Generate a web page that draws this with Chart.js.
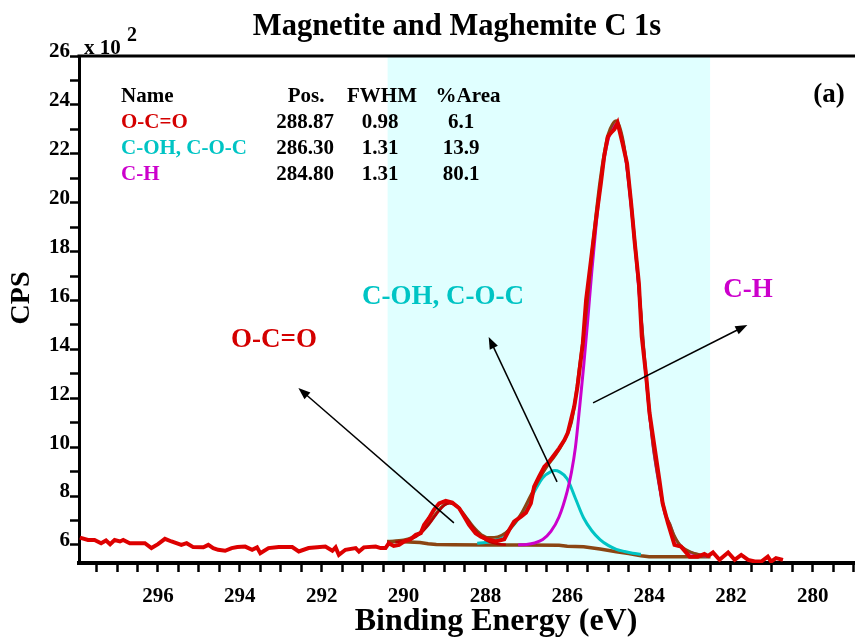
<!DOCTYPE html>
<html lang="en">
<head>
<meta charset="UTF-8">
<title>Magnetite and Maghemite C 1s</title>
<script src="https://cdn.jsdelivr.net/npm/chart.js"></script>
<style>
  html, body { margin: 0; padding: 0; background: #fff; }
  #wrap { width: 855px; height: 642px; position: relative; }
</style>
</head>
<body>
<div id="wrap"><canvas id="xps"></canvas></div>
<script>
// measured C 1s spectrum, counts in units of 10^2 CPS
const rawEnergy = [297.91, 297.71, 297.55, 297.39, 297.27, 297.17, 297.06, 296.93, 296.85, 296.69,
  296.49, 296.32, 296.16, 296.00, 295.83, 295.67, 295.43, 295.30, 295.14, 294.89,
  294.77, 294.65, 294.53, 294.36, 294.20, 294.06, 293.87, 293.70, 293.58, 293.50,
  293.30, 293.05, 292.72, 292.56, 292.32, 291.91, 291.74, 291.66, 291.58, 291.42,
  291.17, 291.09, 290.97, 290.68, 290.56, 290.44, 290.36, 290.24, 290.11, 289.99,
  289.83, 289.70, 289.58, 289.50, 289.38, 289.26, 289.13, 288.97, 288.81, 288.64,
  288.52, 288.40, 288.24, 288.11, 287.95, 287.75, 287.54, 287.42, 287.30, 287.13,
  287.01, 286.89, 286.81, 286.69, 286.56, 286.44, 286.32, 286.20, 286.07, 285.99,
  285.91, 285.83, 285.75, 285.62, 285.54, 285.42, 285.30, 285.18, 285.10, 285.01,
  284.91, 284.85, 284.77, 284.65, 284.54, 284.44, 284.35, 284.25, 284.18, 284.07,
  283.99, 283.87, 283.75, 283.67, 283.54, 283.38, 283.22, 283.01, 282.81, 282.65,
  282.56, 282.44, 282.28, 282.07, 281.91, 281.75, 281.58, 281.42, 281.26, 281.10,
  281.02, 280.90, 280.73];
const rawCps = [6.30, 6.20, 6.20, 6.07, 6.18, 6.03, 6.20, 6.14, 6.20, 6.07,
  6.07, 6.07, 5.87, 6.03, 6.25, 6.14, 6.00, 6.07, 5.91, 5.90,
  6.00, 5.87, 5.80, 5.76, 5.87, 5.91, 5.93, 5.80, 5.90, 5.66,
  5.87, 5.91, 5.91, 5.73, 5.87, 5.93, 5.76, 5.90, 5.59, 5.80,
  5.87, 5.73, 5.90, 5.93, 5.87, 5.87, 6.07, 5.96, 6.00, 6.14,
  6.23, 6.41, 6.48, 6.82, 7.09, 7.43, 7.70, 7.80, 7.73, 7.50,
  7.16, 6.82, 6.48, 6.34, 6.23, 6.14, 6.23, 6.61, 6.95, 7.16,
  7.32, 7.70, 8.38, 8.79, 9.20, 9.41, 9.68, 9.95, 10.29, 10.57,
  11.11, 11.66, 12.48, 14.25, 16.02, 17.66, 19.29, 20.79, 21.88, 22.70,
  22.90, 23.00, 23.27, 22.43, 21.61, 19.98, 18.34, 16.70, 14.52, 12.88,
  11.39, 10.02, 8.66, 7.70, 6.89, 6.00, 5.93, 5.52, 5.52, 5.63,
  5.55, 5.69, 5.39, 5.69, 5.39, 5.59, 5.39, 5.32, 5.32, 5.52,
  5.32, 5.46, 5.39];

// fitted components
const ococEnergy = [290.2, 290.0, 289.8, 289.6, 289.4, 289.2, 289.0, 288.87, 288.7, 288.5, 288.3, 288.1, 287.9, 287.7, 287.5];
const ococCps = [6.12, 6.16, 6.25, 6.45, 6.80, 7.25, 7.62, 7.70, 7.58, 7.18, 6.70, 6.33, 6.12, 6.04, 6.01];

const cohEnergy = [288.2, 288.0, 287.8, 287.6, 287.4, 287.2, 287.0, 286.8, 286.6, 286.4, 286.3,
  286.2, 286.0, 285.8, 285.6, 285.4, 285.2, 285.0, 284.8, 284.6, 284.4, 284.2];
const cohCps = [6.07, 6.10, 6.17, 6.35, 6.65, 7.05, 7.60, 8.20, 8.75, 9.00, 9.04,
  9.00, 8.70, 7.90, 7.10, 6.58, 6.22, 5.98, 5.82, 5.73, 5.66, 5.62];

const chEnergy = [287.2, 287.0, 286.8, 286.6, 286.4, 286.2, 286.0, 285.9, 285.8, 285.7,
  285.6, 285.5, 285.4, 285.3, 285.2, 285.1, 285.0, 284.9, 284.8, 284.7,
  284.6, 284.5, 284.4, 284.3, 284.2, 284.1, 284.0, 283.9, 283.8, 283.7,
  283.6, 283.5, 283.4, 283.3, 283.2, 283.0, 282.8, 282.6];
const chCps = [6.00, 6.02, 6.08, 6.22, 6.55, 7.15, 8.20, 8.95, 10.0, 11.6,
  13.3, 15.2, 17.2, 19.0, 20.6, 21.8, 22.6, 23.05, 23.2, 22.9,
  22.1, 20.8, 19.2, 17.4, 15.4, 13.3, 11.5, 10.0, 8.9, 7.95,
  7.2, 6.85, 6.40, 6.10, 5.88, 5.70, 5.60, 5.53];

const bgEnergy = [290.4, 290.0, 289.6, 289.4, 289.2, 288.8, 288.0, 287.0, 286.2, 286.0,
  285.6, 285.2, 284.8, 284.5, 284.2, 284.0, 283.0, 282.5];
const bgCps = [6.14, 6.13, 6.10, 6.05, 6.02, 6.01, 6.00, 6.00, 5.99, 5.95,
  5.92, 5.83, 5.72, 5.65, 5.56, 5.52, 5.52, 5.52];

const envEnergy = [290.4, 290.0, 289.8, 289.6, 289.4, 289.2, 289.0, 288.87, 288.7, 288.5,
  288.3, 288.1, 287.9, 287.7, 287.5, 287.3, 287.1, 286.9, 286.7, 286.5,
  286.3, 286.1, 285.9, 285.8, 285.7, 285.6, 285.5, 285.4, 285.3, 285.2,
  285.1, 285.0, 284.9, 284.8, 284.7, 284.6, 284.5, 284.4, 284.3, 284.2,
  284.1, 284.0, 283.9, 283.8, 283.7, 283.6, 283.5, 283.4, 283.3, 283.2,
  283.0, 282.8, 282.6];
const envCps = [6.14, 6.20, 6.30, 6.50, 6.85, 7.30, 7.65, 7.72, 7.60, 7.20,
  6.75, 6.42, 6.30, 6.33, 6.50, 6.85, 7.35, 8.00, 8.65, 9.20,
  9.65, 10.2, 11.0, 12.0, 13.3, 14.6, 16.1, 17.9, 19.5, 20.9,
  22.0, 22.8, 23.2, 23.35, 23.0, 22.2, 20.9, 19.3, 17.5, 15.5,
  13.4, 11.55, 10.05, 8.95, 8.0, 7.25, 6.87, 6.42, 6.12, 5.92,
  5.72, 5.61, 5.54];

// fit table
const peakNames = ['O-C=O', 'C-OH, C-O-C', 'C-H'];
const peakPos = ['288.87', '286.30', '284.80'];
const peakFwhm = ['0.98', '1.31', '1.31'];
const peakArea = ['6.1', '13.9', '80.1'];
const peakColors = ['#d40000', '#00c4c4', '#cc00cc'];

// fitted region and axis limits
const regionFrom = 290.39, regionTo = 282.51;
const xMin = 278.97, xMax = 297.93;
const yMin = 5.26, yMax = 26;

const pts = (xs, ys) => xs.map((v, i) => ({ x: v, y: ys[i] }));
const FONT = '"Liberation Serif", "Times New Roman", serif';

function text(ctx, s, x, y, size, color, align) {
  ctx.font = 'bold ' + size + 'px ' + FONT;
  ctx.fillStyle = color;
  ctx.textAlign = align || 'left';
  ctx.textBaseline = 'middle';
  ctx.fillText(s, x, y);
}

function arrow(ctx, x0, y0, x1, y1) {
  const ang = Math.atan2(y1 - y0, x1 - x0), L = 12, W = 4.5;
  ctx.strokeStyle = '#000';
  ctx.fillStyle = '#000';
  ctx.lineWidth = 1.5;
  ctx.beginPath();
  ctx.moveTo(x0, y0);
  ctx.lineTo(x1 - Math.cos(ang) * L * 0.8, y1 - Math.sin(ang) * L * 0.8);
  ctx.stroke();
  ctx.beginPath();
  ctx.moveTo(x1, y1);
  ctx.lineTo(x1 - Math.cos(ang) * L + Math.sin(ang) * W, y1 - Math.sin(ang) * L - Math.cos(ang) * W);
  ctx.lineTo(x1 - Math.cos(ang) * L - Math.sin(ang) * W, y1 - Math.sin(ang) * L + Math.cos(ang) * W);
  ctx.closePath();
  ctx.fill();
}

const decor = {
  id: 'decor',
  beforeDraw(chart) {
    const { ctx, chartArea: a, scales: { x } } = chart;
    const x0 = x.getPixelForValue(regionFrom), x1 = x.getPixelForValue(regionTo);
    ctx.save();
    ctx.fillStyle = '#e0ffff';
    ctx.fillRect(x0, a.top, x1 - x0, a.bottom - a.top);
    ctx.restore();
  },
  afterDraw(chart) {
    const { ctx, chartArea: a, scales: { x, y } } = chart;
    ctx.save();
    // top frame line
    ctx.strokeStyle = '#000';
    ctx.lineWidth = 3;
    ctx.beginPath();
    ctx.moveTo(a.left - 1.5, a.top);
    ctx.lineTo(chart.width, a.top);
    ctx.stroke();

    text(ctx, 'Magnetite and Maghemite C 1s', 457, 27, 30.5, '#000', 'center');
    text(ctx, 'x 10', 84, 49, 21, '#000');
    text(ctx, '2', 127, 36, 20, '#000');
    text(ctx, '(a)', 829, 95, 27, '#000', 'center');

    // fit table
    text(ctx, 'Name', 121, 97, 21, '#000');
    text(ctx, 'Pos.', 306, 97, 21, '#000', 'center');
    text(ctx, 'FWHM', 382, 97, 21, '#000', 'center');
    text(ctx, '%Area', 468, 97, 21, '#000', 'center');
    peakNames.forEach((n, i) => {
      const ry = 123 + i * 26;
      text(ctx, n, 121, ry, 21, peakColors[i]);
      text(ctx, peakPos[i], 305, ry, 21, '#000', 'center');
      text(ctx, peakFwhm[i], 380, ry, 21, '#000', 'center');
      text(ctx, peakArea[i], 461, ry, 21, '#000', 'center');
    });

    // peak labels and pointers
    text(ctx, 'O-C=O', 274, 340, 27, peakColors[0], 'center');
    text(ctx, 'C-OH, C-O-C', 443, 297, 27, peakColors[1], 'center');
    text(ctx, 'C-H', 748, 290, 27, peakColors[2], 'center');
    const P = (e, c) => [x.getPixelForValue(e), y.getPixelForValue(c)];
    arrow(ctx, ...P(288.77, 6.90), ...P(292.57, 12.42));
    arrow(ctx, ...P(286.25, 8.58), ...P(287.92, 14.51));
    arrow(ctx, ...P(285.37, 11.81), ...P(281.60, 15.0));

    // axis titles
    text(ctx, 'Binding Energy (eV)', 496, 622, 32, '#000', 'center');
    ctx.translate(22, 298);
    ctx.rotate(-Math.PI / 2);
    text(ctx, 'CPS', 0, 0, 28, '#000', 'center');
    ctx.restore();
  }
};

new Chart(document.getElementById('xps'), {
  type: 'line',
  data: {
    datasets: [
      { data: pts(rawEnergy, rawCps), borderColor: '#dd0000', borderWidth: 4, tension: 0 },
      { data: pts(ococEnergy, ococCps), borderColor: '#b80000', borderWidth: 2.5, cubicInterpolationMode: 'monotone' },
      { data: pts(envEnergy, envCps), borderColor: '#8b4513', borderWidth: 3, cubicInterpolationMode: 'monotone' },
      { data: pts(chEnergy, chCps), borderColor: '#cc00cc', borderWidth: 3, cubicInterpolationMode: 'monotone' },
      { data: pts(cohEnergy, cohCps), borderColor: '#00c4c4', borderWidth: 3, cubicInterpolationMode: 'monotone' },
      { data: pts(bgEnergy, bgCps), borderColor: '#8b4513', borderWidth: 3.5, tension: 0 }
    ]
  },
  options: {
    responsive: true,
    maintainAspectRatio: false,
    animation: false,
    events: [],
    elements: { point: { radius: 0 } },
    layout: { padding: { top: 56, left: 0, right: 0, bottom: 0 } },
    plugins: { legend: { display: false }, tooltip: { enabled: false }, title: { display: false } },
    scales: {
      x: {
        type: 'linear',
        reverse: true,
        min: xMin,
        max: xMax,
        border: { display: true, color: '#000', width: 4 },
        grid: { drawOnChartArea: false, drawTicks: true, tickLength: 9, tickWidth: 2.5, color: '#000' },
        ticks: {
          stepSize: 0.5,
          includeBounds: false,
          autoSkip: false,
          maxRotation: 0,
          padding: 0,
          color: '#000',
          // tall line box pushes the labels down below the tick marks
          font: { family: FONT, size: 21, weight: 'bold', lineHeight: 2.3 },
          callback: v => (v % 2 === 0 ? String(v) : '')
        },
        afterFit: s => { s.height = 79; }
      },
      y: {
        type: 'linear',
        min: yMin,
        max: yMax,
        border: { display: true, color: '#000', width: 3 },
        grid: { drawOnChartArea: false, drawTicks: true, tickLength: 9, tickWidth: 2.5, color: '#000' },
        ticks: {
          stepSize: 1,
          includeBounds: false,
          autoSkip: false,
          padding: 0,
          labelOffset: -4,
          color: '#000',
          font: { family: FONT, size: 21, weight: 'bold' },
          callback: v => (v % 2 === 0 ? String(v) : '')
        },
        afterFit: s => { s.width = 79; }
      }
    }
  },
  plugins: [decor]
});
</script>
</body>
</html>
